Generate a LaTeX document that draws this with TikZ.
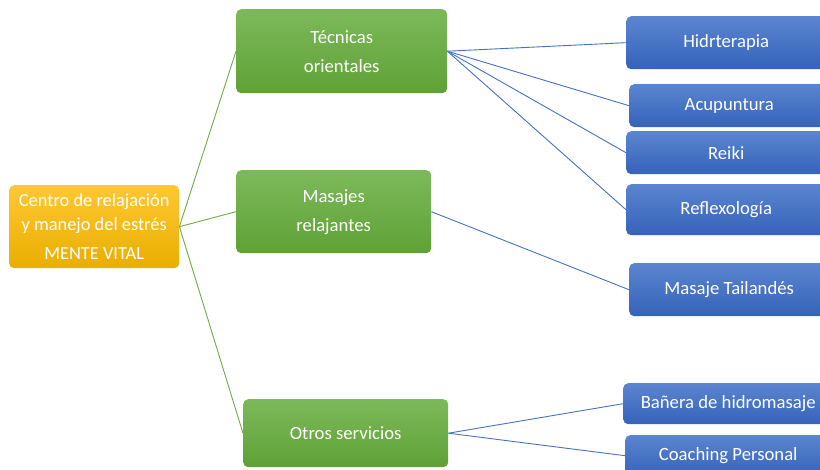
\documentclass[tikz,border=0pt]{standalone}
\usepackage{fontspec}
\setmainfont{Carlito}
\tikzset{
	boxnode/.style = {
		rectangle,
		rounded corners=5pt,
		align=center,
		inner sep=0pt,
		anchor=north west,
		text=white,
		font=\fontsize{18.7}{29}\selectfont
	},
	node_root/.style = {
		boxnode,
		top color=orangetop,
		bottom color=orangebot,
		font=\fontsize{18.4}{24}\selectfont
	},
	node_green/.style = {
		boxnode,
		top color=greentop,
		bottom color=greenbot
	},
	node_blue/.style = {
		boxnode,
		top color=bluetop,
		bottom color=bluebot,
		minimum width=200pt
	},
	edge_green/.style = {
		draw=greenline,
		line width=0.9pt
	},
	edge_blue/.style = {
		draw=blueline,
		line width=0.9pt
	},
}
\definecolor{orangetop}{HTML}{FFC832}
\definecolor{orangebot}{HTML}{E9AE00}
\definecolor{greentop}{HTML}{7DB95A}
\definecolor{greenbot}{HTML}{5FA136}
\definecolor{bluetop}{HTML}{5B85D0}
\definecolor{bluebot}{HTML}{3563BA}
\definecolor{greenline}{HTML}{70AD47}
\definecolor{blueline}{HTML}{4472C4}
\begin{document}
\begin{tikzpicture}[x=1pt,y=-1pt]
\useasboundingbox (0,0) rectangle (820,470);
% main box
\node [node_root, minimum width=170pt, minimum height=83pt] (root) at (9,185)
	{Centro de relajación\\y manejo del estrés\\[5pt]MENTE VITAL};
% groups
\node [node_green, minimum width=211pt, minimum height=84pt] (tecnicas) at (236,9) {Técnicas\\orientales};
\node [node_green, minimum width=195pt, minimum height=83pt] (masajes) at (236,170) {Masajes\\relajantes};
\node [node_green, minimum width=205pt, minimum height=68pt] (otros) at (243,399) {Otros servicios};
% services
\node [node_blue, minimum height=53pt] (hidro) at (626,16) {Hidrterapia};
\node [node_blue, minimum height=43pt] (acupuntura) at (629,84) {Acupuntura};
\node [node_blue, minimum height=43pt] (reiki) at (626,131) {Reiki};
\node [node_blue, minimum height=51pt] (reflexo) at (626,184) {Reflexología};
\node [node_blue, minimum height=53pt] (tailandes) at (629,263) {Masaje Tailandés};
\node [node_blue, minimum height=41pt, minimum width=210pt] (banera) at (623,383) {Bañera de hidromasaje};
\node [node_blue, minimum height=41pt, minimum width=206pt] (coaching) at (625,435) {Coaching Personal};
% connectors
\draw [edge_green] (root.east) -- (tecnicas.west);
\draw [edge_green] (root.east) -- (masajes.west);
\draw [edge_green] (root.east) -- (otros.west);
\foreach \n in {hidro,acupuntura,reiki,reflexo}
	\draw [edge_blue] (tecnicas.east) -- (\n.west);
\draw [edge_blue] (masajes.east) -- (tailandes.west);
\draw [edge_blue] (otros.east) -- (banera.west);
\draw [edge_blue] (otros.east) -- (coaching.west);
\end{tikzpicture}
\end{document}
